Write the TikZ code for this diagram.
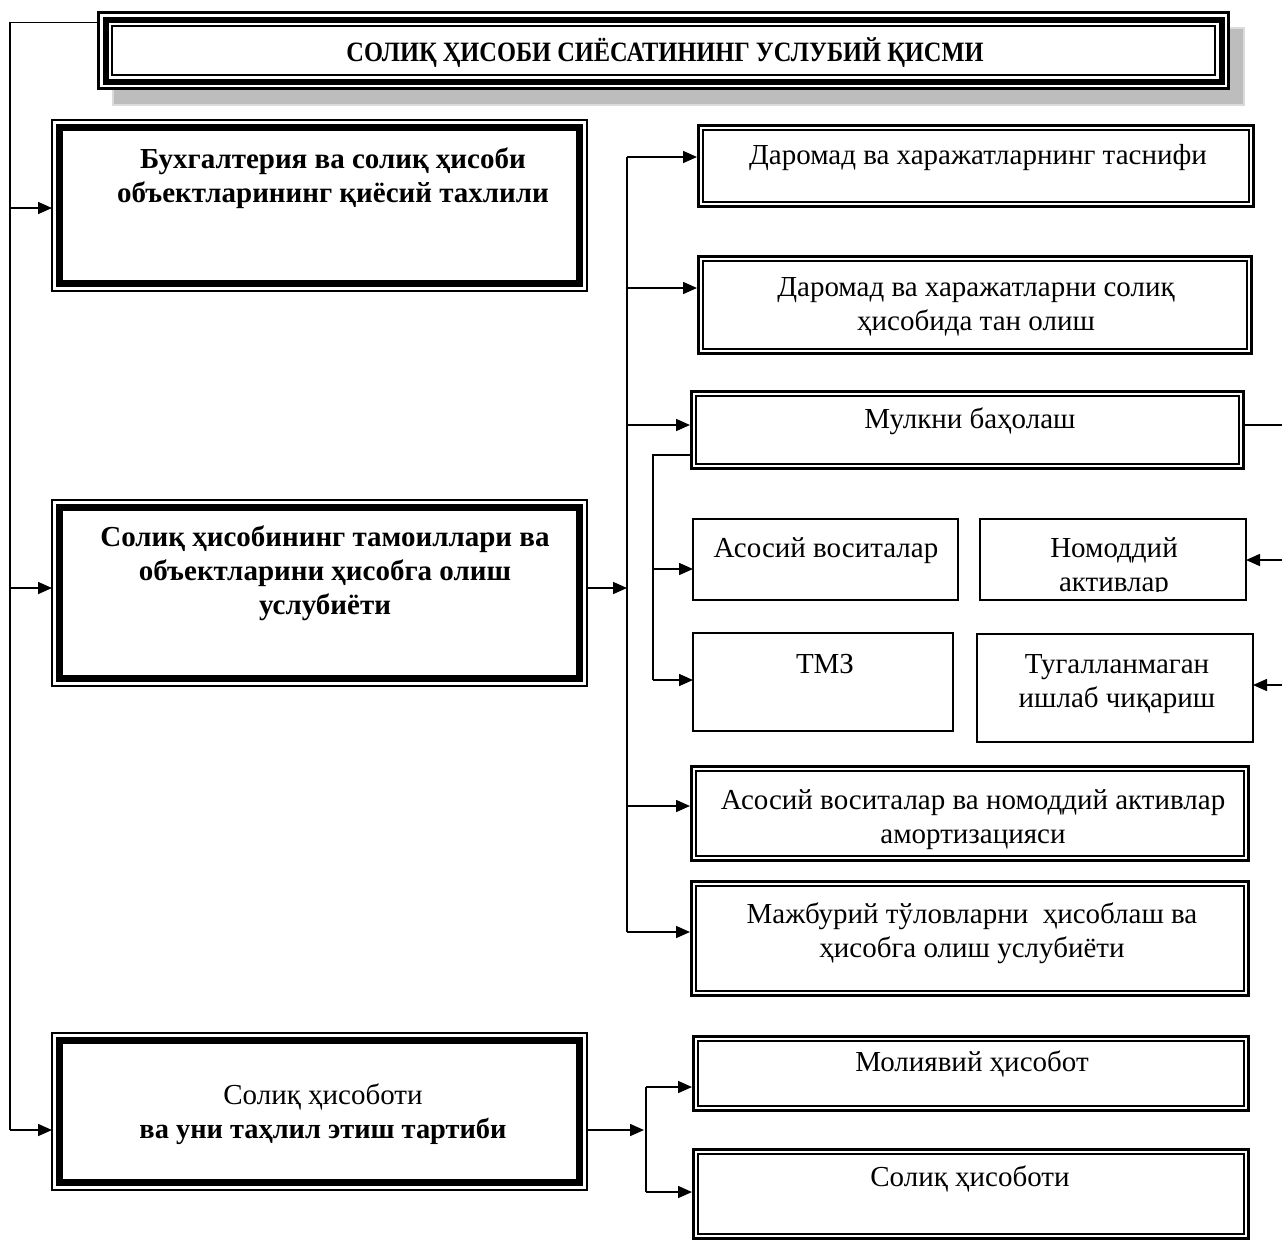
\documentclass[tikz,border=0pt]{standalone}
\usepackage{fontspec}
\setmainfont{Liberation Serif}
\usetikzlibrary{arrows.meta,calc}
\tikzset{
  ln/.style={line width=1.6pt},
  arr/.style={line width=1.6pt,-{Triangle[length=14pt,width=12pt]}},
  txt/.style={inner sep=0pt,align=center,font=\fontsize{29}{34}\selectfont},
  btxt/.style={inner sep=0pt,align=center,font=\fontsize{29}{34}\selectfont\bfseries},
  ttl/.style={inner sep=0pt,align=center,font=\fontsize{28}{30}\selectfont\bfseries},
  area/.style={rectangle,inner sep=0pt,outer sep=0pt},
}
% name, x1, y1, x2, y2
\newcommand\mkbox[5]{\node[area,minimum width={(#4-#2)*1pt},minimum height={(#5-#3)*1pt}] (#1) at ({(#2+#4)/2},{(#3+#5)/2}) {};}
\newcommand\leftframe[1]{%
  \draw[line width=1.5pt] (#1.north west) rectangle (#1.south east);
  \draw[line width=6.5pt] ([shift={(7.5,7.5)}]#1.north west) rectangle ([shift={(-7.5,-7.5)}]#1.south east);}
\newcommand\dblframe[1]{%
  \draw[line width=3pt] ([shift={(1.5,1.5)}]#1.north west) rectangle ([shift={(-1.5,-1.5)}]#1.south east);
  \draw[line width=1.5pt] ([shift={(5.8,5.8)}]#1.north west) rectangle ([shift={(-5.8,-5.8)}]#1.south east);}
\newcommand\sglframe[1]{%
  \draw[line width=1.5pt] (#1.north west) rectangle (#1.south east);}
\begin{document}
\begin{tikzpicture}[x=1pt,y=-1pt]
\useasboundingbox[fill=white] (0,0) rectangle (1282,1243);
% ---- title with shadow
\fill[fill=black!26,draw=black!14,line width=2pt] (113,28) rectangle (1244,105);
\mkbox{title}{97}{11}{1230}{90}
\fill[white] (title.north west) rectangle (title.south east);
\draw[line width=2.6pt] ([shift={(1.3,1.3)}]title.north west) rectangle ([shift={(-1.3,-1.3)}]title.south east);
\draw[line width=6pt] ([shift={(8.5,8.5)}]title.north west) rectangle ([shift={(-8.5,-8.5)}]title.south east);
\draw[line width=2pt] ([shift={(14.8,14.8)}]title.north west) rectangle ([shift={(-14.8,-14.8)}]title.south east);
\node[ttl] (titlet) at (665,53) {\scalebox{0.872}[1]{СОЛИҚ ҲИСОБИ СИЁСАТИНИНГ УСЛУБИЙ ҚИСМИ}};
% ---- left boxes
\mkbox{b1}{52}{120}{587}{291}
\leftframe{b1}
\node[btxt] (b1t) at (333,178) {Бухгалтерия ва солиқ ҳисоби\\объектларининг қиёсий тахлили};
\mkbox{b2}{52}{500}{587}{686}
\leftframe{b2}
\node[btxt] (b2t) at (325,573) {Солиқ ҳисобининг тамоиллари ва\\объектларини ҳисобга олиш\\услубиёти};
\mkbox{b3}{52}{1033}{587}{1190}
\leftframe{b3}
\node[txt] (b3t) at (323,1114) {Солиқ ҳисоботи\\\textbf{\fontsize{28.4}{34}\selectfont ва уни таҳлил этиш тартиби}};
% ---- right boxes
\mkbox{r1}{697}{124}{1255}{208}
\dblframe{r1}
\node[txt] (r1t) at (978,158) {Даромад ва харажатларнинг таснифи};
\mkbox{r2}{697}{255}{1253}{355}
\dblframe{r2}
\node[txt] (r2t) at (976,307) {Даромад ва харажатларни солиқ\\ҳисобида тан олиш};
\mkbox{r3}{690}{390}{1245}{470}
\dblframe{r3}
\node[txt] (r3t) at (970,421) {Мулкни баҳолаш};
\mkbox{s1}{693}{519}{958}{600}
\sglframe{s1}
\node[txt] (s1t) at (826,551) {Асосий воситалар};
\mkbox{s2}{980}{519}{1246}{600}
\sglframe{s2}
\begin{scope}
\clip (980,519) rectangle (1246,591);
\node[txt] (s2t) at (1114,568) {Номоддий\\активлар};
\end{scope}
\mkbox{s3}{693}{633}{953}{731}
\sglframe{s3}
\node[txt] (s3t) at (825,664) {ТМЗ};
\mkbox{s4}{977}{634}{1253}{742}
\sglframe{s4}
\node[txt] (s4t) at (1117,684) {Тугалланмаган\\ишлаб чиқариш};
\mkbox{r4}{690}{765}{1250}{862}
\dblframe{r4}
\node[txt] (r4t) at (973,820) {Асосий воситалар ва номоддий активлар\\амортизацияси};
\mkbox{r5}{690}{880}{1250}{997}
\dblframe{r5}
\node[txt] (r5t) at (972,933) {Мажбурий тўловларни\ \ ҳисоблаш ва\\ҳисобга олиш услубиёти};
\mkbox{r6}{692}{1035}{1250}{1112}
\dblframe{r6}
\node[txt] (r6t) at (972,1064) {Молиявий ҳисобот};
\mkbox{r7}{692}{1148}{1250}{1240}
\dblframe{r7}
\node[txt] (r7t) at (970,1179) {Солиқ ҳисоботи};
% ---- connectors: left bus
\coordinate (lt) at (10,22.5);
\coordinate (lb) at (10,1130);
\draw[ln] (title.west |- lt) -- (lt) -- (lb);
\draw[arr] (10,208) -- (b1.west |- 0,208);
\draw[arr] (10,588) -- (b2.west |- 0,588);
\draw[arr] (lb) -- (b3.west |- lb);
% ---- bus 1
\coordinate (m1) at (627,157);
\coordinate (m2) at (627,932);
\draw[arr] (b2.east |- 0,588) -- (627,588);
\draw[ln] (m1) -- (m2);
\draw[arr] (m1) -- (r1.west |- m1);
\draw[arr] (627,288) -- (r2.west |- 0,288);
\draw[arr] (627,425) -- (r3.west |- 0,425);
\draw[arr] (627,806) -- (r4.west |- 0,806);
\draw[arr] (m2) -- (r5.west |- m2);
% ---- bus from Мулкни баҳолаш
\coordinate (p1) at (653,455);
\coordinate (p2) at (653,680);
\draw[ln] (r3.west |- p1) -- (p1) -- (p2);
\draw[arr] (653,569) -- (s1.west |- 0,569);
\draw[arr] (p2) -- (s3.west |- p2);
\coordinate (q1) at (1282,425);
\draw[ln] (r3.east |- q1) -- (q1);
\coordinate (q2) at (1282,560);
\coordinate (q3) at (1282,685);
\draw[arr] (q2) -- (s2.east |- q2);
\draw[arr] (q3) -- (s4.east |- q3);
% ---- bus 3
\coordinate (n1) at (646,1087);
\coordinate (n2) at (646,1192);
\draw[arr] (b3.east |- 0,1130) -- (644,1130);
\draw[ln] (n1) -- (n2);
\draw[arr] (n1) -- (r6.west |- n1);
\draw[arr] (n2) -- (r7.west |- n2);
\end{tikzpicture}
\end{document}
